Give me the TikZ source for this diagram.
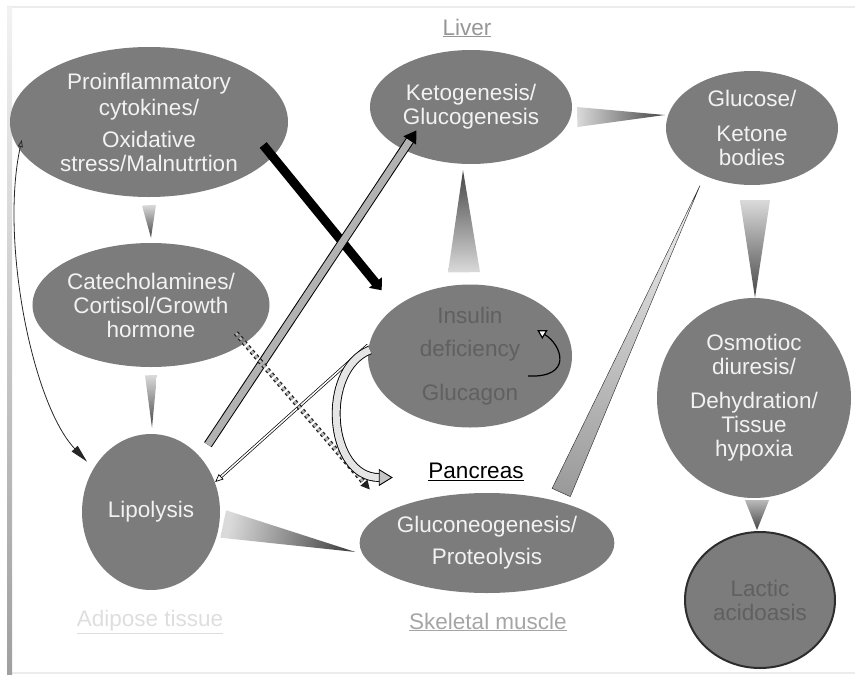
\documentclass[tikz,border=0pt]{standalone}
\usepackage{fontspec}
\setmainfont{Liberation Sans}
\usetikzlibrary{arrows.meta,shapes.geometric,calc}
\definecolor{bubgray}{RGB}{124,124,124}
\definecolor{bubtext}{RGB}{242,242,242}
\definecolor{dimtext}{RGB}{96,96,96}
\definecolor{darkrim}{RGB}{45,45,45}
\definecolor{livergray}{RGB}{150,150,150}
\definecolor{musclegray}{RGB}{165,165,165}
\definecolor{adiposegray}{RGB}{222,222,222}
\definecolor{wedgelight}{RGB}{218,218,218}
\definecolor{wedgedark}{RGB}{70,70,70}

% tapered wedge: base, apex, half width, shading angle
\newcommand{\taper}[5][]{%
  \path[shade,top color=wedgelight,bottom color=wedgedark,shading angle=#5,#1]
    ($(#2)!#4!90:(#3)$) -- (#3) -- ($(#2)!#4!-90:(#3)$) -- cycle;}

\begin{document}
\begin{tikzpicture}[x=1pt,y=-1pt,
  every node/.style={font=\fontsize{22.5}{24}\selectfont},
  bubble/.style={ellipse,fill=bubgray,text=bubtext,align=center,inner sep=0pt},
  hollow/.style={double=gray!60,double distance=7pt,line width=1pt},
  thinhollow/.style={double=white,double distance=1.5pt,line width=0.7pt}]
  \useasboundingbox (0,0) rectangle (855,675);
  % frame
  \draw[gray!15,line width=1.5pt] (7,7) -- (855,7);
  \draw[gray!15,line width=1.5pt] (7,673) -- (855,673);
  \shade[top color=gray!10,bottom color=gray!75] (7,7) rectangle (12,674);

  \node[bubble,minimum width=278pt,minimum height=150pt] (pro) at (149,122)
    {Proinflammatory\\[2pt]cytokines/\\[8pt]Oxidative\\stress/Malnutrtion};
  \node[bubble,minimum width=236pt,minimum height=124pt] (cat) at (151,305)
    {Catecholamines/\\Cortisol/Growth\\hormone};
  \node[bubble,minimum width=138pt,minimum height=156pt] (lip) at (151,512) {Lipolysis};
  \node[bubble,minimum width=202pt,minimum height=114pt] (keto) at (471,107)
    {Ketogenesis/\\Glucogenesis};
  \node[bubble,minimum width=172pt,minimum height=114pt] (gluc) at (752,128)
    {Glucose/\\[11pt]Ketone\\bodies};
  \node[bubble,text=dimtext,minimum width=204pt,minimum height=143pt] (ins) at (470,356)
    {Insulin\\[9pt]deficiency\\[20pt]Glucagon};
  \node[bubble,minimum width=250pt,minimum height=100pt] (gneo) at (487,543)
    {Gluconeogenesis/\\[8pt]Proteolysis};
  \node[bubble,minimum width=194pt,minimum height=200pt] (osm) at (754,398)
    {Osmotioc\\diuresis/\\[10pt]Dehydration/\\Tissue\\hypoxia};
  \node[bubble,draw=darkrim,line width=2pt,text=dimtext,minimum width=150pt,minimum height=136pt] (lac) at (760,600)
    {Lactic\\acidoasis};

  \node[text=livergray] (liver) at (467,28) {\underline{Liver}};
  \node (panc) at (476,472) {\underline{Pancreas}};
  \node[text=musclegray] (muscle) at (488,622) {\underline{Skeletal muscle}};
  \node[text=adiposegray] (adipose) at (150,622) {\underline{Adipose tissue}};

  % wedges
  \coordinate (pcB) at ($(pro.south)+(0,8)$);
  \coordinate (pcT) at ($(cat.north)+(0,-5)$);
  \coordinate (clB) at ($(cat.south)+(0,8)$);
  \coordinate (clT) at ($(lip.north)+(1,-6)$);
  \coordinate (ikB) at ($(ins.north)+(-6,-12)$);
  \coordinate (ikT) at ($(keto.south)+(-8,6)$);
  \coordinate (kgB) at ($(keto.east)+(5,10)$);
  \coordinate (kgT) at ($(gluc.west)+(-1,-13)$);
  \coordinate (goB) at ($(gluc.south)+(3,15)$);
  \coordinate (goT) at ($(osm.north)+(1,0)$);
  \coordinate (olB) at ($(osm.south)+(3,2)$);
  \coordinate (olT) at ($(lac.north)+(-3,-1)$);
  \coordinate (lgB) at ($(lip.east)+(3,12)$);
  \coordinate (lgT) at ($(gneo.west)+(-4,9)$);
  \coordinate (ggB) at ($(gneo.north east)+(-16,-15)$);
  \coordinate (ggT) at ($(gluc.south west)+(9,17)$);
  \taper{pcB}{pcT}{7pt}{0}
  \taper{clB}{clT}{6pt}{0}
  \taper{ikB}{ikT}{16pt}{180}
  \taper{kgB}{kgT}{10pt}{90}
  \taper{goB}{goT}{15pt}{0}
  \taper[top color=gray!55]{olB}{olT}{12pt}{0}
  \taper{lgB}{lgT}{14pt}{78}
  \taper[top color=gray!10,bottom color=gray!80,draw=gray!30!black,thin]{ggB}{ggT}{10pt}{155}

  % arrows
  \coordinate (bkS) at ($(pro.east)+(-25,23)$);
  \coordinate (bkE) at ($(ins.north west)+(-16,-15)$);
  \coordinate (hgS) at ($(lip.north east)+(8,-12)$);
  \coordinate (hgE) at ($(keto.south west)+(17,-17)$);
  \coordinate (tnS) at ($(ins.west)+(0,-11)$);
  \coordinate (tnE) at ($(lip.east)+(-5,-30)$);
  \coordinate (dsS) at ($(cat.south east)+(1,-16)$);
  \coordinate (dsE) at ($(gneo.north west)+(-27,-18)$);
  \coordinate (cvS) at ($(ins.west)+(2,-6)$);
  \coordinate (cvE) at ($(gneo.north west)+(-4,-30)$);
  \coordinate (rcS) at ($(ins.east)+(-44,20)$);
  \coordinate (rcE) at ($(ins.east)+(-35,-26)$);
  \coordinate (lfS) at ($(pro.west)+(12,18)$);
  \coordinate (lfE) at ($(lip.north west)+(-15,5)$);

  \draw[line width=9pt,-{Triangle[length=10pt,width=16pt]}] (bkS) -- (bkE);
  \draw[hollow,-{Triangle[length=12pt,width=15pt]}] (hgS) -- (hgE);
  \draw[thinhollow,-{Triangle[open,length=8pt,width=7pt]}] (tnS) -- (tnE);
  \draw[dashed,draw=gray!25!black,double=gray!60,double distance=2.5pt,line width=1.3pt,-{Triangle[length=9pt,width=9pt]}] (dsS) -- (dsE);
  \draw[hollow,double=gray!20,line width=0.9pt,-{Triangle[open,fill=gray!45,length=14pt,width=17pt]}]
    (cvS) .. controls +(-50,20) and +(-65,0) .. (cvE);
  \draw[line width=1.2pt,-{Triangle[open,fill=white,length=9pt,width=10pt]}]
    (rcS) .. controls +(45,2) and +(25,15) .. (rcE);
  \draw[gray!30!black,line width=0.8pt,{Triangle[open,length=7pt,width=5pt]}-{Triangle[length=18pt,width=8pt]}]
    (lfS) .. controls +(-22,100) and +(-55,-58) .. (lfE);
\end{tikzpicture}
\end{document}
